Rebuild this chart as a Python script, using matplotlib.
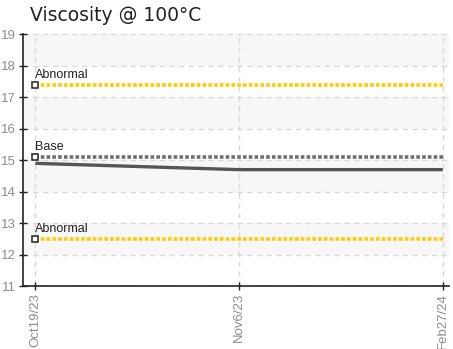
"""Viscosity trend chart with reference limits"""

import matplotlib
import matplotlib.pyplot as plt

matplotlib.use("Agg")

dates = ["Oct19/23", "Nov6/23", "Feb27/24"]
viscosity = [14.9, 14.7, 14.7]

base = 15.1
abnormal_high = 17.4
abnormal_low = 12.5

y_min, y_max = 11, 19
grid_col = "#d9d9d9"
band_col = "#f7f7f7"
tick_col = "#8c8c8c"
narrow = ["Liberation Sans Narrow", "Liberation Sans"]

fig = plt.figure(figsize=(4.53, 3.49), dpi=100)
ax = fig.add_axes([0.051, 0.18, 0.94, 0.722])

# alternating bands
for lo in range(y_min, y_max):
    if (lo - y_min) % 2 == 1:
        ax.axhspan(lo, lo + 1, color=band_col, zorder=0, lw=0)

x = list(range(len(dates)))

# reference lines
for val, col, lab in [(abnormal_high, "#ffcc00", "Abnormal"),
                      (base, "#6e6e6e", "Base"),
                      (abnormal_low, "#ffcc00", "Abnormal")]:
    ax.plot([x[0], x[-1]], [val, val], color=col, lw=2.6, ls=(0, (1, 0.6)), zorder=3)
    ax.plot(x[0], val, marker="s", ms=4.5, mfc="white", mec="#222222", mew=1.1, zorder=5)
    ax.text(x[0], val + 0.12, lab, fontsize=9, family=narrow,
            color="#222222", ha="left", va="bottom", zorder=6)

ax.plot(x, viscosity, color="#555555", lw=2.4, zorder=4, solid_capstyle="butt")

ax.set_xlim(-0.06, 2.03)
ax.set_ylim(y_min, y_max)
ax.set_xticks(x)
ax.set_xticklabels(dates, rotation=90)
ax.set_yticks(range(y_min, y_max + 1))

ax.grid(True, color=grid_col, ls=(0, (4, 3)), lw=1)
ax.set_axisbelow(True)

for side in ["top", "right"]:
    ax.spines[side].set_visible(False)
for side in ["left", "bottom"]:
    ax.spines[side].set_color("#222222")
    ax.spines[side].set_linewidth(1.2)

ax.tick_params(direction="inout", length=6, width=1, color="#222222",
               labelcolor=tick_col, labelsize=9.5, pad=2)
for lbl in ax.get_xticklabels() + ax.get_yticklabels():
    lbl.set_family(narrow)

fig.text(0.066, 0.94, "Viscosity @ 100°C", fontsize=13.5, color="#222222",
         ha="left", va="baseline")

fig.savefig("out.png", dpi=100)
